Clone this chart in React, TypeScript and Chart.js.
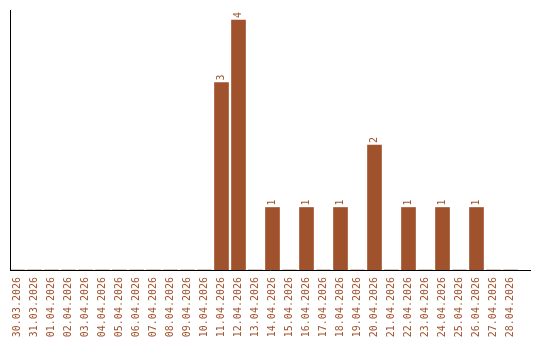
import React, { useEffect, useRef } from "react";
import { Chart, registerables } from "chart.js";

Chart.register(...registerables);

const labels: string[] = [
  "30.03.2026", "31.03.2026", "01.04.2026", "02.04.2026", "03.04.2026",
  "04.04.2026", "05.04.2026", "06.04.2026", "07.04.2026", "08.04.2026",
  "09.04.2026", "10.04.2026", "11.04.2026", "12.04.2026", "13.04.2026",
  "14.04.2026", "15.04.2026", "16.04.2026", "17.04.2026", "18.04.2026",
  "19.04.2026", "20.04.2026", "21.04.2026", "22.04.2026", "23.04.2026",
  "24.04.2026", "25.04.2026", "26.04.2026", "27.04.2026", "28.04.2026",
];

const counts: number[] = [
  0, 0, 0, 0, 0, 0, 0, 0, 0, 0, 0, 0, 3, 4, 0,
  1, 0, 1, 0, 1, 0, 2, 0, 1, 0, 1, 0, 1, 0, 0,
];

const COLOR = "#a0522d";
const FONT = "'DejaVu Sans Mono', monospace";

const overlayPlugin = {
  id: "overlay",
  afterDatasetsDraw(chart: any) {
    const ctx = chart.ctx;
    const area = chart.chartArea;
    const meta = chart.getDatasetMeta(0);
    ctx.save();
    ctx.fillStyle = COLOR;
    ctx.font = "10px " + FONT;
    ctx.textAlign = "left";
    ctx.textBaseline = "middle";
    meta.data.forEach((bar: any, i: number) => {
      const v = counts[i];
      if (!v) return;
      ctx.save();
      ctx.translate(bar.x, bar.y - 2);
      ctx.rotate(-Math.PI / 2);
      ctx.fillText(String(v), 0, 0);
      ctx.restore();
    });
    ctx.strokeStyle = "#000";
    ctx.lineWidth = 1;
    ctx.beginPath();
    ctx.moveTo(10.5, 10);
    ctx.lineTo(10.5, area.bottom + 0.5);
    ctx.moveTo(10, area.bottom + 0.5);
    ctx.lineTo(531, area.bottom + 0.5);
    ctx.stroke();
    ctx.restore();
  },
};

export default function App() {
  const ref = useRef<HTMLCanvasElement | null>(null);
  useEffect(() => {
    document.body.style.margin = "0";
    const canvas = ref.current!;
    const chart = new Chart(canvas, {
      type: "bar",
      data: {
        labels,
        datasets: [
          {
            data: counts,
            backgroundColor: COLOR,
            borderWidth: 0,
            barThickness: 14,
          },
        ],
      },
      options: {
        animation: false,
        responsive: false,
        layout: { padding: { left: 9, right: 21, top: 10, bottom: 0 } },
        plugins: { legend: { display: false }, tooltip: { enabled: false } },
        scales: {
          x: {
            offset: true,
            grid: { display: false, drawTicks: false },
            border: { display: false },
            ticks: {
              autoSkip: false,
              maxRotation: 90,
              minRotation: 90,
              padding: 7,
              color: COLOR,
              font: { family: FONT, size: 10 },
            },
            afterFit(scale: any) {
              scale.height = 70;
            },
          },
          y: {
            display: false,
            min: 0,
            max: 4.16,
          },
        },
      },
      plugins: [overlayPlugin],
    });
    return () => chart.destroy();
  }, []);
  return <canvas ref={ref} width={540} height={340} style={{ display: "block" }} />;
}
